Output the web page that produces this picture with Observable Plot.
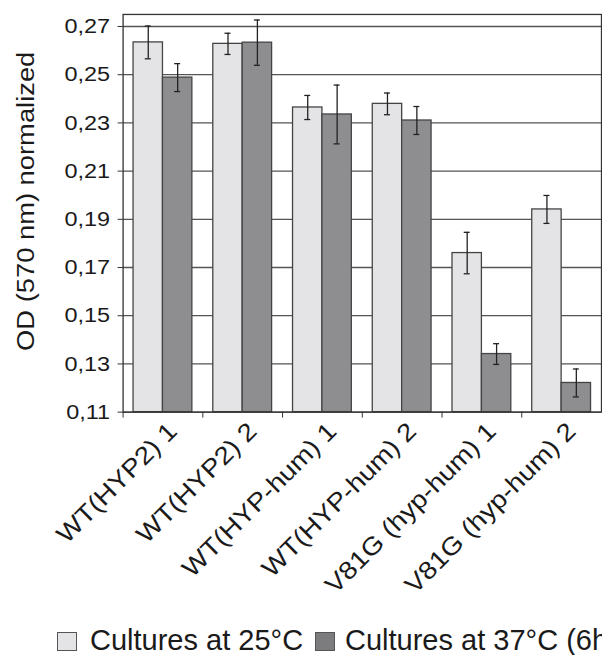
<!DOCTYPE html>
<html>
<head>
<meta charset="utf-8">
<script src="https://cdn.jsdelivr.net/npm/d3@7"></script>
<script src="https://cdn.jsdelivr.net/npm/@observablehq/plot@0.6"></script>
<style>
  html, body { margin: 0; padding: 0; background: #fff; overflow: hidden; width: 602px; height: 655px; }
  #chart { position: absolute; left: 0; top: 0; }
  #legend { position: absolute; left: 0; top: 600px; width: 602px; height: 55px; overflow: hidden;
            font-family: "Liberation Sans", Arial, sans-serif; font-size: 29px; line-height: 1; color: #1a1a1a; }
  #legend .sw { position: absolute; top: 32px; width: 18px; height: 17px; border: 1.5px solid #555; }
  #legend .lbl { position: absolute; top: 26px; white-space: nowrap; }
</style>
</head>
<body>
<div id="chart"></div>
<div id="legend"></div>
<script>
const categories = ["WT(HYP2) 1", "WT(HYP2) 2", "WT(HYP-hum) 1", "WT(HYP-hum) 2", "V81G (hyp-hum) 1", "V81G (hyp-hum) 2"];
const seriesNames = ["Cultures at 25°C", "Cultures at 37°C (6h)"];
const values25 = [0.2634, 0.2628, 0.2364, 0.2379, 0.1760, 0.1941];
const errors25 = [0.0068, 0.0044, 0.0050, 0.0045, 0.0086, 0.0058];
const values37 = [0.2488, 0.2633, 0.2335, 0.2310, 0.1341, 0.1221];
const errors37 = [0.0058, 0.0094, 0.0122, 0.0058, 0.0043, 0.0058];
const yTicks = [0.11, 0.13, 0.15, 0.17, 0.19, 0.21, 0.23, 0.25, 0.27];
const yLabel = "OD (570 nm) normalized";

const yMin = 0.11, yMax = 0.275;
const lightFill = "#e4e4e6", darkFill = "#8e8e91";

const d25 = categories.map((c, i) => ({cat: c, v: values25[i], e: errors25[i]}));
const d37 = categories.map((c, i) => ({cat: c, v: values37[i], e: errors37[i]}));

const band = 80, pad = 10.5, half = (band - 2 * pad) / 2;
const capHalf = 3;
const c25 = pad + half / 2, c37 = pad + half + half / 2;

const fmt = d => d.toFixed(2).replace(".", ",");

const errMarks = (data, center) => [
  Plot.ruleX(data, {x: "cat", y1: d => d.v - d.e, y2: d => d.v + d.e, dx: center - band / 2, stroke: "#222", strokeWidth: 1.3}),
  Plot.tickY(data, {x: "cat", y: d => d.v + d.e, insetLeft: center - capHalf, insetRight: band - center - capHalf, stroke: "#222", strokeWidth: 1.3}),
  Plot.tickY(data, {x: "cat", y: d => d.v - d.e, insetLeft: center - capHalf, insetRight: band - center - capHalf, stroke: "#222", strokeWidth: 1.3})
];

const chart = Plot.plot({
  width: 604,
  height: 612,
  marginLeft: 123,
  marginRight: 1,
  marginTop: 14,
  marginBottom: 199,
  style: {fontFamily: "'Liberation Sans', Arial, sans-serif", background: "transparent", color: "#1a1a1a"},
  x: {domain: categories, padding: 0, axis: null},
  y: {domain: [yMin, yMax], axis: null},
  marks: [
    Plot.ruleY(yTicks, {stroke: "#555", strokeWidth: 1.3}),
    Plot.barY(d25, {x: "cat", y1: yMin, y2: "v", insetLeft: pad, insetRight: band - pad - half, fill: lightFill, stroke: "#444", strokeWidth: 1.3}),
    Plot.barY(d37, {x: "cat", y1: yMin, y2: "v", insetLeft: pad + half, insetRight: pad, fill: darkFill, stroke: "#444", strokeWidth: 1.3}),
    ...errMarks(d25, c25),
    ...errMarks(d37, c37),
    Plot.frame({stroke: "#333", strokeWidth: 1.3}),
    Plot.axisY({ticks: yTicks, tickFormat: fmt, tickSize: 5, tickPadding: 8, fontSize: 21, label: null, stroke: "#333"}),
    Plot.axisX({tickSize: 6, tickFormat: () => "", dx: -band / 2, label: null, stroke: "#333"}),
    Plot.axisX({tickSize: 0, tickRotate: -45, tickPadding: 15, fontSize: 25, label: null, dx: 10}),
    Plot.text([yLabel], {frameAnchor: "left", rotate: -90, dx: -89, dy: -12, fontSize: 24.5, textAnchor: "middle", lineAnchor: "bottom", fill: "#1a1a1a"})
  ]
});

document.getElementById("chart").appendChild(chart);

// horizontal stretch of the chart text to match the reference typography
chart.querySelectorAll("text").forEach(t => {
  const len = t.getComputedTextLength();
  if (len > 0) {
    t.setAttribute("textLength", (len * 1.12).toFixed(1));
    t.setAttribute("lengthAdjust", "spacingAndGlyphs");
  }
});

const legend = document.getElementById("legend");
const items = [
  {name: seriesNames[0], fill: lightFill, sw: 57, lbl: 90},
  {name: seriesNames[1], fill: "#7c7c7e", sw: 315, lbl: 345}
];
items.forEach(it => {
  const s = document.createElement("span");
  s.className = "sw";
  s.style.left = it.sw + "px";
  s.style.background = it.fill;
  legend.appendChild(s);
  const l = document.createElement("span");
  l.className = "lbl";
  l.style.left = it.lbl + "px";
  l.textContent = it.name;
  legend.appendChild(l);
});
</script>
</body>
</html>
